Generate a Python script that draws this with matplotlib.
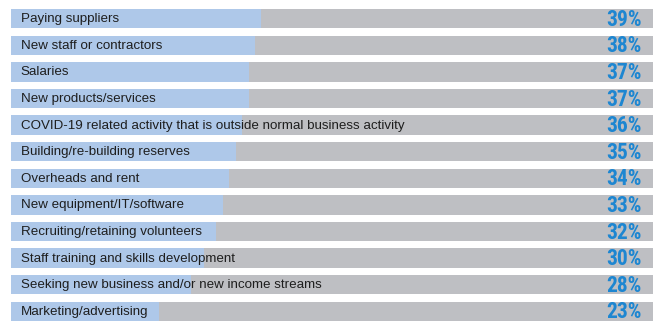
import matplotlib
matplotlib.use("Agg")
import matplotlib.pyplot as plt

categories = [
    "Paying suppliers",
    "New staff or contractors",
    "Salaries",
    "New products/services",
    "COVID-19 related activity that is outside normal business activity",
    "Building/re-building reserves",
    "Overheads and rent",
    "New equipment/IT/software",
    "Recruiting/retaining volunteers",
    "Staff training and skills development",
    "Seeking new business and/or new income streams",
    "Marketing/advertising",
]
values = [39, 38, 37, 37, 36, 35, 34, 33, 32, 30, 28, 23]
total = 100

W, H = 663, 334
fig = plt.figure(figsize=(W / 100, H / 100), dpi=100)
ax = fig.add_axes([11 / W, 1 - 321 / H, 642 / W, 312 / H])

bh = 0.73
ys = list(range(len(categories)))
ax.barh(ys, [total] * len(ys), height=bh, color="#bebfc3", edgecolor="none")
ax.barh(ys, values, height=bh, color="#aec8e9", edgecolor="none")

for y, c, v in zip(ys, categories, values):
    ax.text(1.5, y + 0.02, c, va="center", ha="left", fontsize=9.6,
            color="#1e1e1e", family=["Liberation Sans", "DejaVu Sans"])
    ax.text(98.2, y + 0.04, f"{v}%", va="center", ha="right", fontsize=15.5,
            fontweight="bold", color="#1d86d1",
            family=["Roboto Condensed", "Barlow Condensed", "Archivo Narrow", "DejaVu Sans"])

ax.set_xlim(0, total)
ax.set_ylim(len(ys) - 1 + bh / 2, -bh / 2)
ax.axis("off")

fig.savefig("out.png", dpi=100)
